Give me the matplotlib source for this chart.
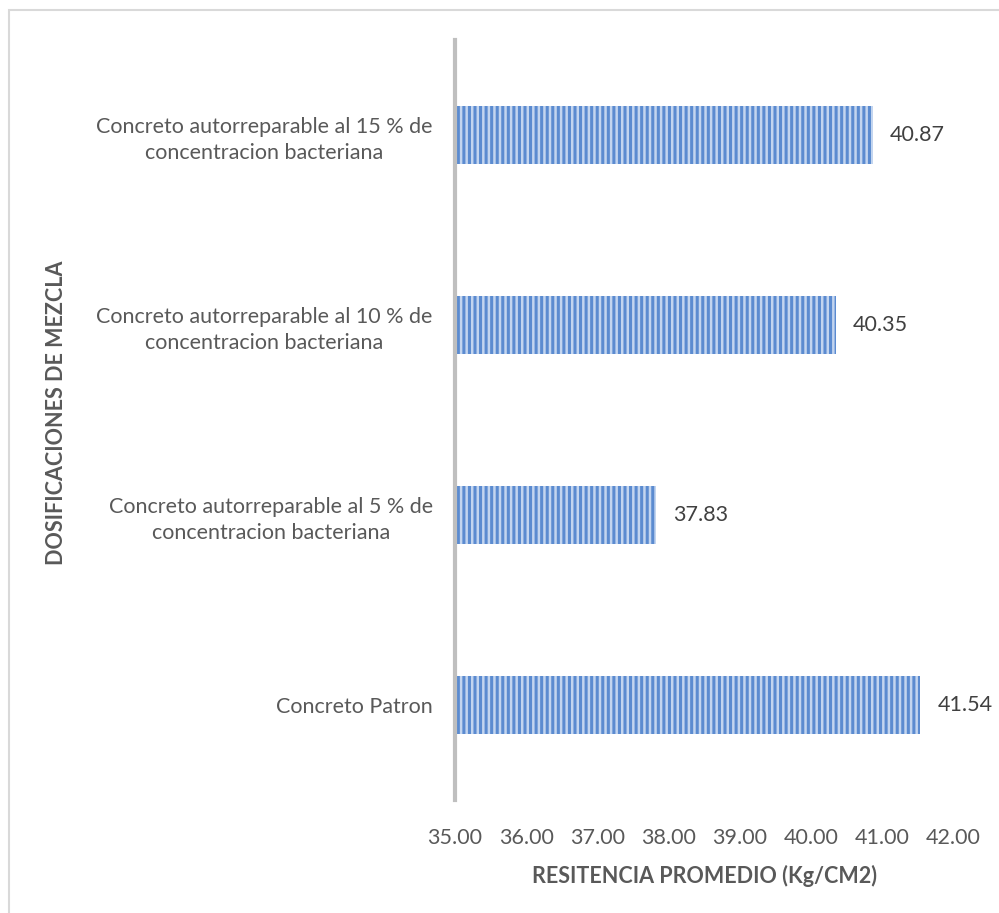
import matplotlib
matplotlib.use("Agg")
import matplotlib.pyplot as plt
from matplotlib.patches import Rectangle

plt.rcParams['font.family'] = ['Lato', 'DejaVu Sans']
plt.rcParams['hatch.linewidth'] = 2.2

categories = [
    "Concreto Patron",
    "Concreto autorreparable al 5 % de\nconcentracion bacteriana",
    "Concreto autorreparable al 10 % de\nconcentracion bacteriana",
    "Concreto autorreparable al 15 % de\nconcentracion bacteriana",
]
values = [41.54, 37.83, 40.35, 40.87]
x_ticks = [35.00, 36.00, 37.00, 38.00, 39.00, 40.00, 41.00, 42.00]

FS = 15.5

fig = plt.figure(figsize=(9.99, 9.13), dpi=100)
fig.patches.append(Rectangle((9 / 999, -0.01), 1.0, (913 - 10) / 913 + 0.01,
                             transform=fig.transFigure, fill=False,
                             edgecolor='#d9d9d9', linewidth=1.5))

ax = fig.add_axes([455 / 999, (913 - 800) / 913, (953 - 455) / 999, 760 / 913])
ypos = list(range(len(categories)))
base = x_ticks[0]
ax.barh(ypos, [v - base for v in values], left=base, height=0.31,
        color='#c3d5ef', edgecolor='#5b8bd0', hatch='|||', linewidth=0)

for y, v in zip(ypos, values):
    ax.text(v + 0.24, y, f"{v:.2f}", va='center', ha='left',
            fontsize=FS, color='#404040')

ax.set_xlim(x_ticks[0], x_ticks[-1])
ax.set_ylim(-0.5, len(categories) - 0.5)
ax.set_xticks(x_ticks)
ax.set_xticklabels([f"{t:.2f}" for t in x_ticks], fontsize=FS, color='#595959')
ax.set_yticks(ypos)
ax.set_yticklabels(categories, fontsize=FS, color='#595959', ha='right',
                   multialignment='center', linespacing=1.35)
ax.tick_params(axis='y', length=0, pad=16)
ax.tick_params(axis='x', length=0, pad=20)

for side in ['top', 'right', 'bottom']:
    ax.spines[side].set_visible(False)
ax.spines['left'].set_color('#bfbfbf')
ax.spines['left'].set_linewidth(3)

ax.set_xlabel("RESITENCIA PROMEDIO (Kg/CM2)", fontsize=FS, fontweight='bold',
              color='#595959', labelpad=12)
fig.text(57 / 999, 1 - 413 / 913, "DOSIFICACIONES DE MEZCLA", rotation=90,
         fontsize=FS, fontweight='bold', color='#595959', ha='center', va='center')

fig.savefig("out.png", dpi=100)
